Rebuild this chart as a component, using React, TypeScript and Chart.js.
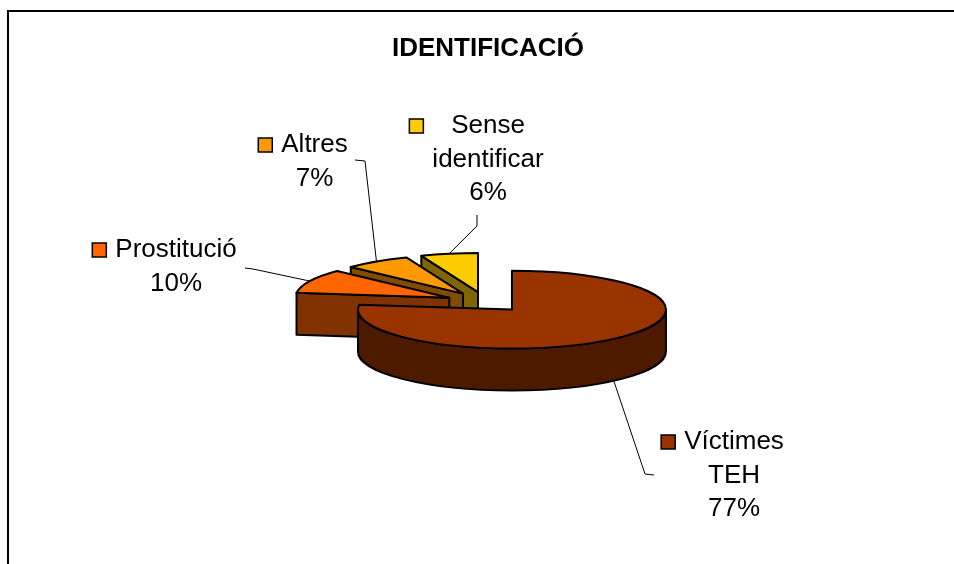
import { useEffect, useRef } from "react";
import { Chart, registerables } from "chart.js";

Chart.register(...registerables);

// ---------- data ----------
const TITLE = "IDENTIFICACIÓ";
const categories = ["Víctimes TEH", "Prostitució", "Altres", "Sense identificar"];
const values = [77, 10, 7, 6];

// ---------- style ----------
const topColors = ["#993300", "#FF6600", "#FF9900", "#FFCC00"];
const sideColors = ["#4D1A00", "#803300", "#804D00", "#806600"];
const FONT = '"Liberation Sans", Arial, sans-serif';
const RADIUS = 154;
const TILT = 0.253;
const DEPTH = 42;
const EXPLODE = 40;
const LINE_H = 33.5;
// label placement (centre x, first baseline, leader elbow points from label towards pie)
const labelLayout = [
  { cx: 734, baseline: 449, leader: [[654, 475], [645, 474]] },
  { cx: 176, baseline: 257, leader: [[245, 268], [253, 269]] },
  { cx: 314.5, baseline: 152, leader: [[355, 160], [365, 161]] },
  { cx: 488, baseline: 133, leader: [[477, 215], [477, 226]] },
];

type Geo = { i: number; arc: any; x: number; y: number; a0: number; a1: number; R: number; ax: number; ay: number; mid: number };

function geometry(chart: any): Geo[] {
  const meta = chart.getDatasetMeta(0);
  return meta.data.map((arc: any, i: number) => {
    const p = arc.getProps(["x", "y", "startAngle", "endAngle", "outerRadius"], true);
    const mid = (p.startAngle + p.endAngle) / 2;
    return {
      i, arc, x: p.x, y: p.y, a0: p.startAngle, a1: p.endAngle, R: p.outerRadius, mid,
      ax: p.x + Math.cos(mid) * EXPLODE,
      ay: p.y + Math.sin(mid) * EXPLODE * TILT,
    };
  });
}

const pie3d = {
  id: "pie3d",
  beforeDatasetDraw(chart: any) {
    const ctx: CanvasRenderingContext2D = chart.ctx;
    const geos = geometry(chart).sort((a, b) => Math.sin(a.mid) - Math.sin(b.mid));
    for (const g of geos) {
      const { ax, ay, R } = g;
      const ry = R * TILT;
      const P = (t: number, d = 0) => [ax + R * Math.cos(t), ay + ry * Math.sin(t) + d];
      ctx.save();
      ctx.lineWidth = 2;
      ctx.strokeStyle = "#000";
      ctx.lineJoin = "round";
      ctx.fillStyle = sideColors[g.i];
      const face = (t: number) => {
        const p = P(t), q = P(t, DEPTH);
        ctx.beginPath();
        ctx.moveTo(ax, ay);
        ctx.lineTo(p[0], p[1]);
        ctx.lineTo(q[0], q[1]);
        ctx.lineTo(ax, ay + DEPTH);
        ctx.closePath();
        ctx.fill();
        ctx.stroke();
      };
      if (Math.cos(g.a0) < -1e-3) face(g.a0);
      if (Math.cos(g.a1) > 1e-3) face(g.a1);
      for (let n = -1; n <= 1; n++) {
        const lo = Math.max(g.a0, n * 2 * Math.PI);
        const hi = Math.min(g.a1, n * 2 * Math.PI + Math.PI);
        if (hi > lo) {
          ctx.beginPath();
          ctx.ellipse(ax, ay, R, ry, 0, lo, hi);
          ctx.ellipse(ax, ay + DEPTH, R, ry, 0, hi, lo, true);
          ctx.closePath();
          ctx.fill();
          ctx.stroke();
        }
      }
      // top face drawn by the library's arc element, squashed into an ellipse
      ctx.save();
      ctx.translate(ax, ay);
      ctx.scale(1, TILT);
      ctx.translate(-g.x, -g.y);
      g.arc.draw(ctx);
      ctx.restore();
      ctx.beginPath();
      ctx.moveTo(ax, ay);
      ctx.ellipse(ax, ay, R, ry, 0, g.a0, g.a1);
      ctx.closePath();
      ctx.stroke();
      ctx.restore();
    }
    return false;
  },
  afterDraw(chart: any) {
    const ctx: CanvasRenderingContext2D = chart.ctx;
    const geos = geometry(chart);
    const data: number[] = chart.data.datasets[0].data;
    const total = data.reduce((s, v) => s + v, 0);
    ctx.save();
    // title
    ctx.fillStyle = "#000";
    ctx.font = `bold 26px ${FONT}`;
    ctx.textAlign = "center";
    ctx.textBaseline = "alphabetic";
    ctx.fillText(TITLE, 488, 56);
    // labels
    geos.forEach((g) => {
      const lay = labelLayout[g.i];
      const ry = g.R * TILT;
      const rim = [g.ax + g.R * Math.cos(g.mid), g.ay + ry * Math.sin(g.mid) + (Math.sin(g.mid) > 0 ? DEPTH : 0)];
      ctx.beginPath();
      ctx.lineWidth = 1;
      ctx.strokeStyle = "#000";
      ctx.moveTo(lay.leader[0][0], lay.leader[0][1]);
      ctx.lineTo(lay.leader[1][0], lay.leader[1][1]);
      ctx.lineTo(rim[0], rim[1]);
      ctx.stroke();

      const lines = String(chart.data.labels[g.i]).split(" ");
      lines.push(Math.round((data[g.i] / total) * 100) + "%");
      ctx.font = `26px ${FONT}`;
      ctx.fillStyle = "#000";
      ctx.textAlign = "center";
      let w = 0;
      lines.forEach((l, k) => {
        w = Math.max(w, ctx.measureText(l).width);
        ctx.fillText(l, lay.cx, lay.baseline + k * LINE_H);
      });
      const kx = lay.cx - w / 2 - 9 - 14;
      const ky = lay.baseline - 14;
      ctx.fillStyle = topColors[g.i];
      ctx.fillRect(kx, ky, 14, 14);
      ctx.lineWidth = 1.5;
      ctx.strokeRect(kx, ky, 14, 14);
    });
    ctx.restore();
  },
};

export default function App() {
  const ref = useRef<HTMLCanvasElement>(null);
  useEffect(() => {
    if (!ref.current) return;
    const chart = new Chart(ref.current, {
      type: "pie",
      data: {
        labels: categories,
        datasets: [
          {
            data: values,
            backgroundColor: topColors,
            borderWidth: 0,
            offset: 0,
            radius: RADIUS,
          } as any,
        ],
      },
      options: {
        responsive: false,
        maintainAspectRatio: false,
        devicePixelRatio: 1,
        animation: false,
        events: [],
        layout: { padding: { left: 17, top: 40, right: 0, bottom: 0 } },
        plugins: {
          legend: { display: false },
          title: { display: false },
          tooltip: { enabled: false },
        },
      },
      plugins: [pie3d as any],
    });
    return () => chart.destroy();
  }, []);
  return (
    <div style={{ position: "fixed", left: 0, top: 0, width: 954, height: 564, overflow: "hidden", background: "#fff" }}>
      <div style={{ position: "absolute", left: 7, top: 10, width: 2000, height: 2000, borderLeft: "2px solid #000", borderTop: "2px solid #000" }} />
      <canvas ref={ref} width={954} height={564} style={{ position: "absolute", left: 0, top: 0, width: 954, height: 564 }} />
    </div>
  );
}
